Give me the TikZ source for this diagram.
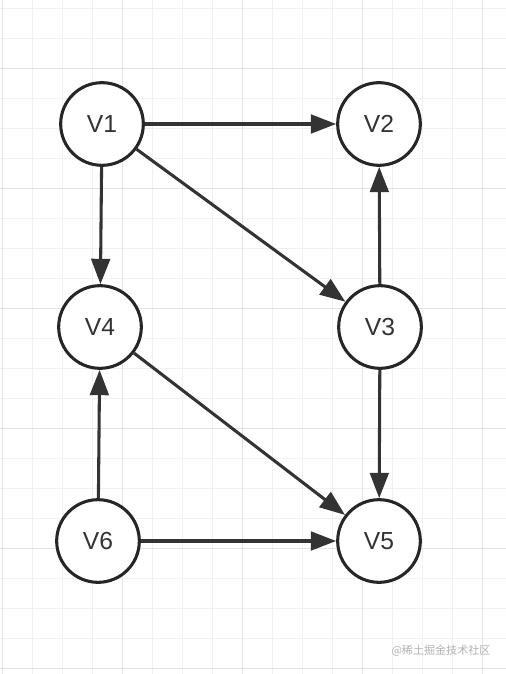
\documentclass[tikz,border=0pt]{standalone}
\usepackage{fontspec}
\setmainfont{Liberation Sans}
\newfontfamily\cjk{Noto Sans CJK SC}
\usepackage{xcolor}
\usetikzlibrary{arrows.meta,positioning}

\definecolor{gridminor}{HTML}{F1F1F1}
\definecolor{gridmajor}{HTML}{E3E3E3}
\definecolor{ink}{HTML}{262626}
\definecolor{edgeink}{HTML}{333333}

\begin{document}
\begin{tikzpicture}[x=0.75pt,y=-0.75pt,
  every node/.style={font=\fontsize{18.5}{20}\selectfont},
  vx/.style={draw=ink,circle,line width=2.3pt,minimum size=62pt,inner sep=0pt,
    fill=white,text=black!80},
  arc/.style={edgeink,line width=2.3pt,-{Triangle[length=19pt,width=14pt]}}]
\useasboundingbox (0,0) rectangle (506,674);
\fill[white] (0,0) rectangle (506,674);
% background grid
\foreach \x in {2.7,32.7,...,506} \draw[gridminor,line width=1pt] (\x,0)--(\x,674);
\foreach \y in {8.3,38.3,...,674} \draw[gridminor,line width=1pt] (0,\y)--(506,\y);
\foreach \x in {2.7,122.7,...,506} \draw[gridmajor,line width=1pt] (\x,0)--(\x,674);
\foreach \y in {68.3,188.3,...,674} \draw[gridmajor,line width=1pt] (0,\y)--(506,\y);
% vertices
\node[vx] (v1) at (102,124) {V1};
\node[vx] (v2) at (379,124) {V2};
\node[vx] (v4) at (100,327) {V4};
\node[vx] (v3) at (380,327) {V3};
\node[vx] (v6) at (98,541) {V6};
\node[vx] (v5) at (379,541) {V5};
% arcs
\draw[arc] (v1)--(v2);
\draw[arc] (v1)--(v4);
\draw[arc] (v1)--(v3);
\draw[arc] (v3)--(v2);
\draw[arc] (v3)--(v5);
\draw[arc] (v4)--(v5);
\draw[arc] (v6)--(v4);
\draw[arc] (v6)--(v5);
\node[font=\cjk\fontsize{8.3}{10}\selectfont,text=black!30] (wm) at (441,651) {@稀土掘金技术社区};
\end{tikzpicture}
\end{document}
